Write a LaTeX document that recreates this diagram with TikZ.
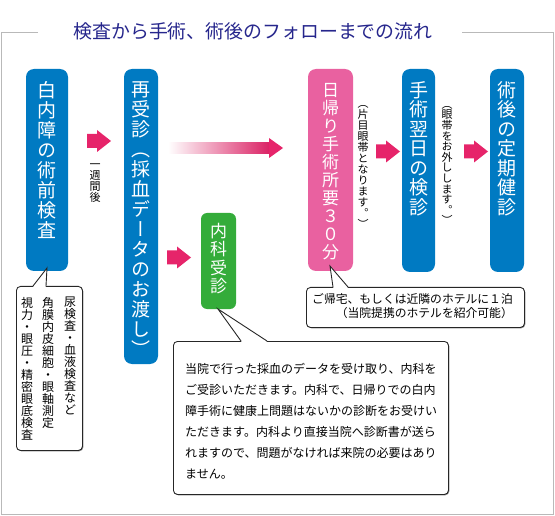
\documentclass[tikz,border=0pt]{standalone}
\usepackage{fontspec}
\newfontfamily\jp{Noto Sans CJK JP}
\newfontfamily\jpv[RawFeature=+vert]{Noto Sans CJK JP}
\usetikzlibrary{shadows}
\definecolor{boxblue}{RGB}{0,122,194}
\definecolor{boxpink}{RGB}{233,97,160}
\definecolor{boxgreen}{RGB}{52,172,58}
\definecolor{arrowpink}{RGB}{230,36,106}
\definecolor{titleblue}{RGB}{38,38,140}
\definecolor{framegray}{RGB}{185,185,185}
\newcommand\vfont[2]{\jpv\fontsize{#1}{#2}\selectfont\lineskiplimit=-50pt\relax}
\newcommand\hfont[2]{\jp\fontsize{#1}{#2}\selectfont\lineskiplimit=-50pt\relax}
\newcommand\blockarrow[2]{\fill[arrowpink] (#1,#2-7) -- (#1+10,#2-7) -- (#1+10,#2-11) -- (#1+24,#2) -- (#1+10,#2+11) -- (#1+10,#2+7) -- (#1,#2+7) -- cycle;}
\begin{document}
\begin{tikzpicture}[x=1pt,y=-1pt,
  flowbox/.style={rounded corners=8pt, inner sep=0pt, draw=none},
  vlabel/.style={anchor=north, inner sep=0pt, align=center, text=white},
  vnote/.style={anchor=north, inner sep=0pt, align=center, text=black},
  callout/.style={draw=black!85, line width=0.9pt, fill=white, rounded corners=4pt, inner sep=0pt, anchor=north west,
     drop shadow={shadow xshift=0.8pt, shadow yshift=-0.8pt, fill=black!50, opacity=1}},
  pointer/.style={draw=black!85, line width=0.9pt},
  frameline/.style={draw=framegray, line width=1pt}]
\useasboundingbox (0,0) rectangle (555,516);
% frame
\draw[frameline] (38,32.5) -- (1,32.5) -- (1,514.5) -- (553,514.5) -- (553,32.5) -- (462,32.5);
\node[inner sep=0pt, text=titleblue, font=\hfont{18.9}{22}] (title) at (253,31) {検査から手術、術後のフォローまでの流れ};
% boxes
\node[flowbox, fill=boxblue, minimum width=42pt, minimum height=202pt] (b1) at (47,170) {};
\node[flowbox, fill=boxblue, minimum width=34pt, minimum height=295pt] (b2) at (141,216.5) {};
\node[flowbox, fill=boxgreen, rounded corners=6pt, minimum width=35pt, minimum height=96pt] (b3) at (218.5,261) {};
\node[flowbox, fill=boxpink, minimum width=45pt, minimum height=202pt] (b4) at (330.5,170) {};
\node[flowbox, fill=boxblue, minimum width=33pt, minimum height=203pt] (b5) at (418.5,170.5) {};
\node[flowbox, fill=boxblue, minimum width=34pt, minimum height=203pt] (b6) at (507,170.5) {};
% box texts
\node[vlabel, font=\vfont{19}{20}] (b1t) at (47,81) {白\\内\\障\\の\\術\\前\\検\\査};
\node[vlabel, font=\vfont{19}{20}] (b2t) at (141,81) {再\\受\\診\\（\\採\\血\\デ\\ー\\タ\\の\\お\\渡\\し\\）};
\node[vlabel, font=\vfont{17}{18.3}] (b3t) at (218.5,223) {内\\科\\受\\診};
\node[vlabel, font=\vfont{17}{18}] (b4t) at (330.5,83) {日\\帰\\り\\手\\術\\所\\要\\３\\０\\分};
\node[vlabel, font=\vfont{19}{19.5}] (b5t) at (418.5,81) {手\\術\\翌\\日\\の\\検\\診};
\node[vlabel, font=\vfont{19}{19.5}] (b6t) at (507,81) {術\\後\\の\\定\\期\\健\\診};
% side notes
\node[vnote, font=\vfont{11}{11}] (n1) at (95,164) {一\\週\\間\\後};
\node[vnote, font=\vfont{11}{11}] (n2) at (363,105) {（\\片\\目\\眼\\帯\\と\\な\\り\\ま\\す\\。\\）};
\node[vnote, font=\vfont{11}{10.6}] (n3) at (447,106) {（\\眼\\帯\\を\\お\\外\\し\\し\\ま\\す\\。\\）};
% arrows
\blockarrow{87}{141}
\blockarrow{167}{257.5}
\blockarrow{376}{151.5}
\blockarrow{464}{151.5}
\shade[left color=white, right color=arrowpink!95!black] (168,142.5) rectangle (269.5,153.5);
\fill[arrowpink] (269,138) -- (283,148) -- (269,158) -- cycle;
% callouts
\node[callout, minimum width=66pt, minimum height=164pt] (c1) at (16,286) {};
\node[callout, minimum width=218pt, minimum height=40pt] (c2) at (306,287) {};
\node[callout, minimum width=275pt, minimum height=153pt] (c3) at (173,341) {};
% pointers
\coordinate (c1a) at (33,286); \coordinate (c1tip) at (47,268); \coordinate (c1b) at (46,286);
\coordinate (c2a) at (333,287); \coordinate (c2tip) at (330,266); \coordinate (c2b) at (348,287);
\coordinate (c3a) at (241,341); \coordinate (c3tip) at (218,309); \coordinate (c3b) at (267,341);
\fill[white] (34,287.2) -- (c1a) -- (c1tip) -- (c1b) -- (45,287.2) -- cycle;
\draw[pointer] (c1a) -- (c1tip) -- (c1b);
\fill[white] (334,288.2) -- (c2a) -- (c2tip) -- (c2b) -- (347,288.2) -- cycle;
\draw[pointer] (c2a) -- (c2tip) -- (c2b);
\fill[white] (242,342.2) -- (c3a) -- (c3tip) -- (c3b) -- (266,342.2) -- cycle;
\draw[pointer] (c3a) -- (c3tip) -- (c3b);
% callout texts
\node[vnote, font=\vfont{12}{12}] (t1a) at (70,297) {尿\\検\\査\\・\\血\\液\\検\\査\\な\\ど};
\node[vnote, font=\vfont{12}{12}] (t1b) at (48,297) {角\\膜\\内\\皮\\細\\胞\\・\\眼\\軸\\測\\定};
\node[vnote, font=\vfont{12}{12}] (t1c) at (27,297) {視\\力\\・\\眼\\圧\\・\\精\\密\\眼\\底\\検\\査};
\node[inner sep=0pt, align=right, anchor=north east, font=\hfont{11.8}{14}] (t2) at (513,293) {ご帰宅、もしくは近隣のホテルに１泊\\（当院提携のホテルを紹介可能）};
\node[inner sep=0pt, align=left, anchor=north west, font=\hfont{12}{21}] (t3) at (185,363) {当院で行った採血のデータを受け取り、内科を\\ご受診いただきます。内科で、日帰りでの白内\\障手術に健康上問題はないかの診断をお受けい\\ただきます。内科より直接当院へ診断書が送ら\\れますので、問題がなければ来院の必要はあり\\ません。};
\end{tikzpicture}
\end{document}
